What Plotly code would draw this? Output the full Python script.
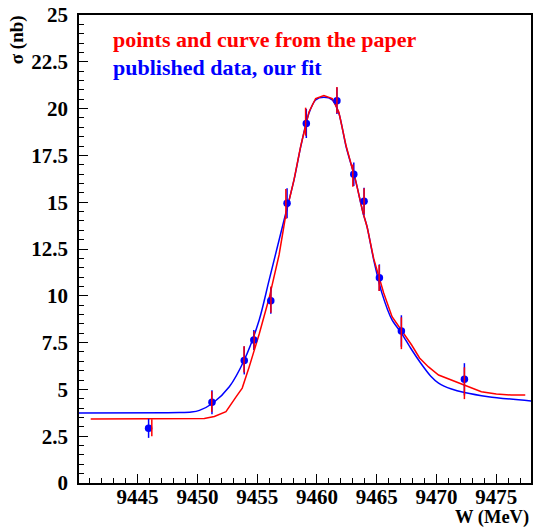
import plotly.graph_objects as go

# ---- data ----
# published data (blue), our fit
blue_w = [9445.92, 9451.22, 9453.92, 9454.72, 9456.14, 9457.50, 9459.11, 9461.67, 9463.08, 9463.94, 9465.22, 9467.06, 9472.33]
blue_s = [2.92, 4.31, 6.55, 7.64, 9.74, 14.94, 19.21, 20.42, 16.49, 15.05, 10.97, 8.12, 5.54]
blue_e = [0.51, 0.64, 0.75, 0.53, 0.70, 0.80, 0.78, 0.71, 0.63, 0.72, 0.71, 0.84, 0.86]

# points from the paper (red)
red_w = [9446.19, 9451.20, 9453.90, 9454.75, 9456.15, 9457.40, 9459.05, 9461.67, 9463.00, 9463.94, 9465.20, 9467.06, 9472.33]
red_s = [2.95, 4.35, 6.60, 7.60, 9.80, 14.90, 19.30, 20.45, 16.42, 15.05, 10.95, 8.00, 5.33]
red_e = [0.45, 0.55, 0.70, 0.50, 0.70, 0.80, 0.75, 0.70, 0.60, 0.70, 0.70, 0.85, 0.85]

# curves
blue_curve_w = [9440.08, 9448.50, 9449.50, 9450.17, 9451.28, 9452.67, 9453.92, 9455.17, 9456.00, 9457.25, 9458.08,
                9458.64, 9459.33, 9459.89, 9460.58, 9461.28, 9461.83, 9462.44, 9463.22, 9463.86, 9464.19,
                9464.75, 9465.44, 9466.28, 9467.06, 9467.83, 9468.67, 9469.50, 9470.17, 9471.25, 9472.33,
                9474.33, 9477.92]
blue_curve_s = [3.74, 3.76, 3.79, 3.88, 4.26, 5.14, 6.57, 8.71, 10.84, 14.05, 16.19,
                17.96, 19.75, 20.46, 20.60, 20.46, 19.75, 17.96, 16.19, 14.41, 13.69,
                11.91, 10.13, 8.71, 8.01, 7.21, 6.41, 5.72, 5.34, 5.02, 4.83,
                4.61, 4.38]

red_curve_w = [9441.08, 9450.58, 9451.42, 9452.39, 9453.22, 9453.75, 9454.33, 9455.17, 9456.00, 9456.83,
               9457.42, 9458.08, 9458.64, 9459.33, 9459.89, 9460.58, 9461.28, 9461.83, 9462.44, 9463.22,
               9463.86, 9464.19, 9464.75, 9465.58, 9466.28, 9467.25, 9467.92, 9468.58, 9469.33, 9470.17,
               9471.25, 9472.33, 9473.75, 9475.00, 9476.25, 9477.42]
red_curve_s = [3.42, 3.45, 3.55, 3.81, 4.59, 5.07, 6.20, 7.96, 9.88, 12.18,
               14.42, 16.19, 18.00, 19.82, 20.54, 20.70, 20.54, 19.82, 18.00, 16.19,
               14.42, 13.69, 11.97, 10.15, 8.88, 8.01, 7.37, 6.68, 6.20, 5.77,
               5.50, 5.24, 4.88, 4.75, 4.70, 4.70]

x_ticks = [9445, 9450, 9455, 9460, 9465, 9470, 9475]
y_ticks = [0, 2.5, 5, 7.5, 10, 12.5, 15, 17.5, 20, 22.5, 25]
y_tick_text = ["0", "2.5", "5", "7.5", "10", "12.5", "15", "17.5", "20", "22.5", "25"]

RED = "#ff0000"
BLUE = "#0000ff"
FONT = "Liberation Serif, Times New Roman, serif"

fig = go.Figure()

fig.add_trace(go.Scatter(x=blue_curve_w, y=blue_curve_s, mode="lines",
                         line=dict(color=BLUE, width=1.5, shape="spline", smoothing=0.8),
                         hoverinfo="skip"))
fig.add_trace(go.Scatter(x=red_curve_w, y=red_curve_s, mode="lines",
                         line=dict(color=RED, width=1.5),
                         hoverinfo="skip"))
fig.add_trace(go.Scatter(x=blue_w, y=blue_s, mode="markers",
                         marker=dict(color=BLUE, size=7.5, symbol="circle"),
                         error_y=dict(type="data", array=blue_e, color=BLUE, thickness=1.5, width=0)))
fig.add_trace(go.Scatter(x=red_w, y=red_s, mode="markers",
                         marker=dict(color="rgba(0,0,0,0)", size=9, symbol="circle-open",
                                     line=dict(color=RED, width=1.5)),
                         error_y=dict(type="data", array=red_e, color=RED, thickness=1.5, width=0)))

axis_common = dict(
    showline=True, linecolor="black", linewidth=1.5, mirror=True,
    ticks="inside", ticklen=9, tickwidth=1.2, tickcolor="black",
    showgrid=False, zeroline=False,
    tickfont=dict(family=FONT, size=21, color="black", weight="bold"),
)

fig.update_xaxes(range=[9440.1, 9477.9], tickvals=x_ticks, ticktext=[str(t) for t in x_ticks],
                 minor=dict(ticks="inside", ticklen=5, dtick=1, tick0=9440, tickcolor="black", tickwidth=1),
                 ticklabelstandoff=-6, **axis_common)
fig.update_yaxes(range=[0, 25], tickvals=y_ticks, ticktext=y_tick_text,
                 minor=dict(ticks="inside", ticklen=5, dtick=0.5, tick0=0, tickcolor="black", tickwidth=1),
                 ticklabelstandoff=5, **axis_common)

fig.add_annotation(text="points and curve from the paper", xref="paper", yref="paper",
                   x=0.0705, y=0.9466, xanchor="left", yanchor="middle", showarrow=False,
                   font=dict(family=FONT, size=22, color=RED, weight="bold"))
fig.add_annotation(text="published data, our fit", xref="paper", yref="paper",
                   x=0.0705, y=0.8868, xanchor="left", yanchor="middle", showarrow=False,
                   font=dict(family=FONT, size=22, color=BLUE, weight="bold"))
fig.add_annotation(text="σ (nb)", xref="paper", yref="paper", textangle=-90,
                   x=-0.1366, y=0.9466, xanchor="center", yanchor="middle", showarrow=False,
                   font=dict(family=FONT, size=19, color="black", weight="bold"))
fig.add_annotation(text="W (MeV)", xref="paper", yref="paper",
                   x=0.9978, y=-0.0983, xanchor="right", yanchor="bottom", showarrow=False,
                   borderpad=0, font=dict(family=FONT, size=18.5, color="black", weight="bold"))

fig.update_layout(width=535, height=529, margin=dict(l=79, r=2, t=15, b=46),
                  paper_bgcolor="white", plot_bgcolor="white", showlegend=False)

# remove the default page margin so the figure sits at the window's top-left corner
fig.write_html("out.html", config={"displayModeBar": False},
               post_script="document.body.style.margin='0';document.body.style.overflow='hidden';")
